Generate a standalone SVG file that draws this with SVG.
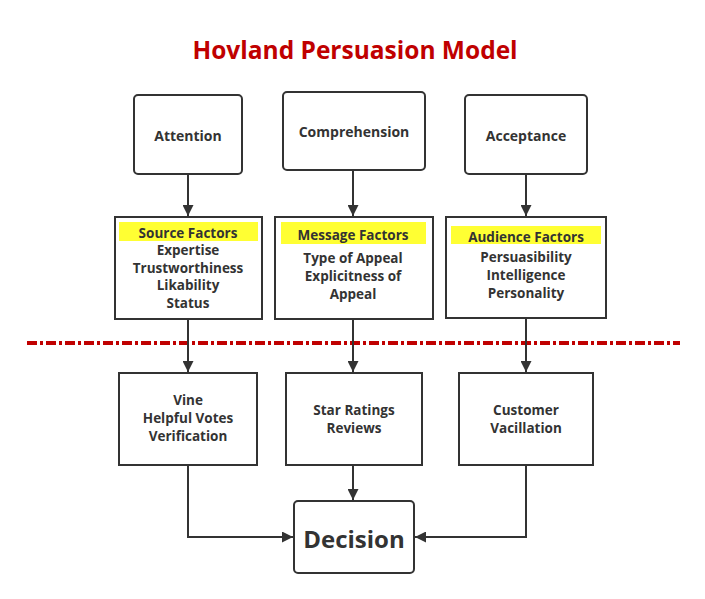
<svg xmlns="http://www.w3.org/2000/svg" width="705" height="599" viewBox="0 0 705 599">
<style>
.box{fill:#fff;stroke:#333;stroke-width:2}
.t{font-family:"Open Sans","Noto Sans",sans-serif;font-weight:700;font-size:13.5px;fill:#333;text-anchor:middle}
.hl{fill:#ffff33}
.c{fill:none;stroke:#333;stroke-width:2}
</style>
<defs>
<marker id="ah" viewBox="0 0 10 10" refX="10" refY="5" markerWidth="6" markerHeight="5.5" markerUnits="strokeWidth" orient="auto">
<path d="M0,0 L10,5 L0,10 Z" fill="#333"/>
</marker>
</defs>
<rect width="705" height="599" fill="#fff"/>
<text x="355" y="59" font-family="'Open Sans','Noto Sans',sans-serif" font-weight="700" font-size="24.5" fill="#c00000" text-anchor="middle">Hovland Persuasion Model</text>
<line x1="27" y1="343" x2="680" y2="343" stroke="#c00000" stroke-width="4" stroke-dasharray="10 3 3 3"/>
<g id="connectors">
<line class="c" x1="188" y1="174" x2="188" y2="216" marker-end="url(#ah)"/>
<line class="c" x1="353" y1="170" x2="353" y2="216" marker-end="url(#ah)"/>
<line class="c" x1="526" y1="174" x2="526" y2="216" marker-end="url(#ah)"/>
<line class="c" x1="188" y1="319" x2="188" y2="372" marker-end="url(#ah)"/>
<line class="c" x1="353" y1="319" x2="353" y2="372" marker-end="url(#ah)"/>
<line class="c" x1="526" y1="318" x2="526" y2="372" marker-end="url(#ah)"/>
<polyline class="c" points="188,465 188,537 293,537" marker-end="url(#ah)"/>
<line class="c" x1="353" y1="465" x2="353" y2="500" marker-end="url(#ah)"/>
<polyline class="c" points="526,465 526,537 415,537" marker-end="url(#ah)"/>
</g>
<g id="attention">
<rect class="box" x="134" y="95" width="108" height="79" rx="4"/>
<text class="t" x="188" y="141" style="font-size:14px">Attention</text>
</g>
<g id="comprehension">
<rect class="box" x="283" y="92" width="142" height="78" rx="4"/>
<text class="t" x="354" y="137" style="font-size:14px">Comprehension</text>
</g>
<g id="acceptance">
<rect class="box" x="465" y="95" width="122" height="79" rx="4"/>
<text class="t" x="526" y="141" style="font-size:14px">Acceptance</text>
</g>
<g id="source">
<rect class="box" x="115" y="217" width="147" height="102"/>
<rect class="hl" x="119" y="222" width="139" height="19"/>
<text class="t" x="188" y="238">Source Factors</text>
<text class="t" x="188" y="255">Expertise</text>
<text class="t" x="188" y="273">Trustworthiness</text>
<text class="t" x="188" y="290">Likability</text>
<text class="t" x="188" y="308">Status</text>
</g>
<g id="message">
<rect class="box" x="275" y="217" width="158" height="102"/>
<rect class="hl" x="281" y="222" width="145" height="22"/>
<text class="t" x="353" y="240">Message Factors</text>
<text class="t" x="353" y="263">Type of Appeal</text>
<text class="t" x="353" y="281">Explicitness of</text>
<text class="t" x="353" y="299">Appeal</text>
</g>
<g id="audience">
<rect class="box" x="446" y="217" width="160" height="101"/>
<rect class="hl" x="451" y="226" width="150" height="18"/>
<text class="t" x="526" y="242">Audience Factors</text>
<text class="t" x="526" y="262">Persuasibility</text>
<text class="t" x="526" y="280">Intelligence</text>
<text class="t" x="526" y="298">Personality</text>
</g>
<g id="vine">
<rect class="box" x="119" y="373" width="138" height="92"/>
<text class="t" x="188" y="405">Vine</text>
<text class="t" x="188" y="423">Helpful Votes</text>
<text class="t" x="188" y="441">Verification</text>
</g>
<g id="star">
<rect class="box" x="286" y="373" width="136" height="92"/>
<text class="t" x="354" y="415">Star Ratings</text>
<text class="t" x="354" y="433">Reviews</text>
</g>
<g id="customer">
<rect class="box" x="459" y="373" width="134" height="92"/>
<text class="t" x="526" y="415">Customer</text>
<text class="t" x="526" y="433">Vacillation</text>
</g>
<g id="decision">
<rect class="box" x="294" y="501" width="120" height="72" rx="4"/>
<text class="t" x="354" y="548" style="font-size:24px">Decision</text>
</g>
</svg>
